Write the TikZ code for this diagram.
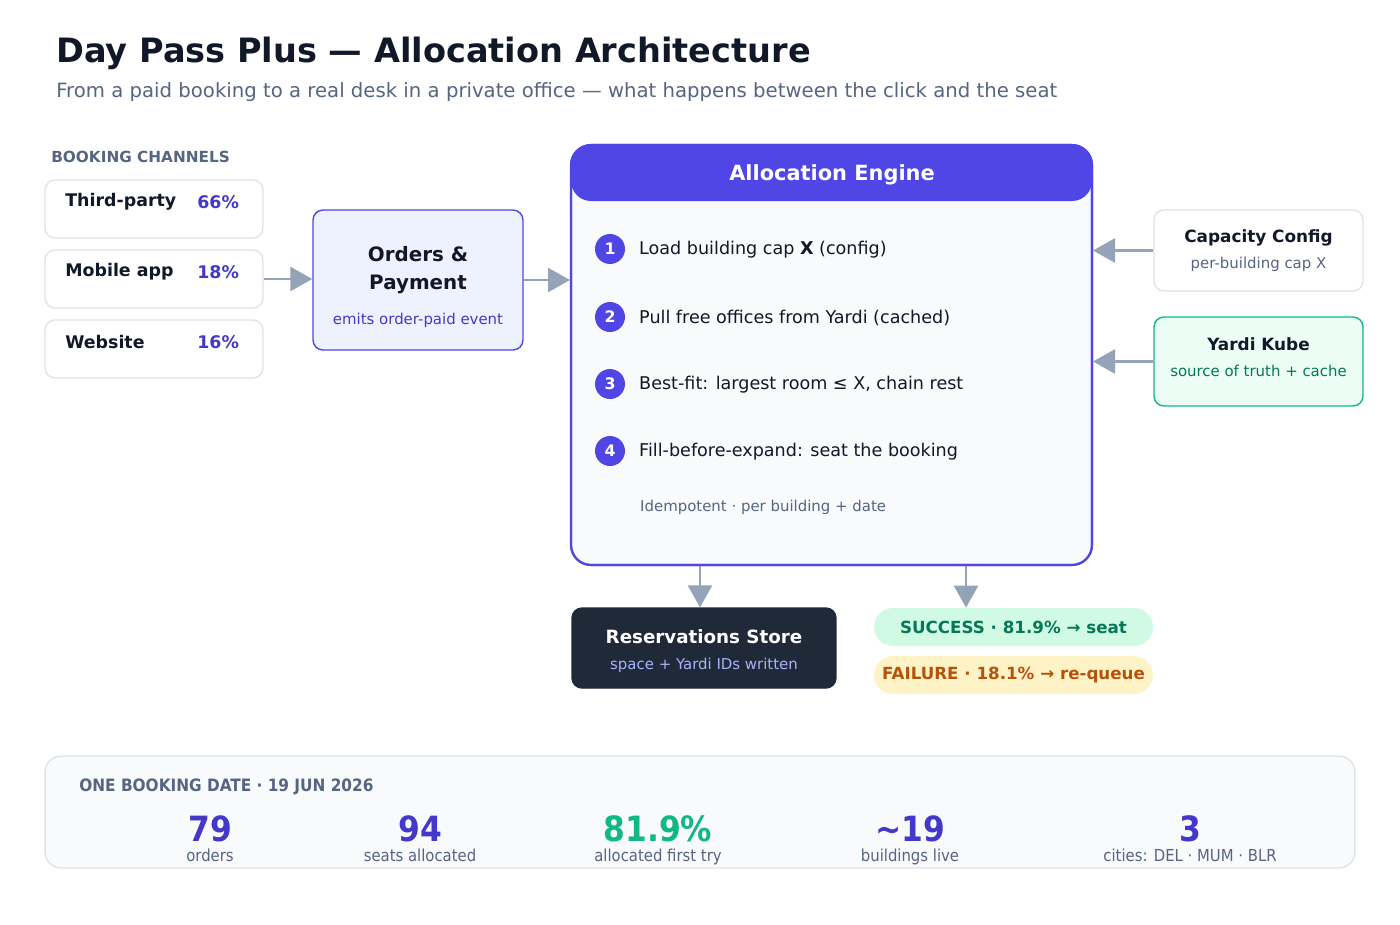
\documentclass[tikz,border=0pt]{standalone}
\usepackage{fontspec}
\setmainfont{DejaVu Sans}
\newfontfamily\condfont{DejaVu Sans Condensed}
\usetikzlibrary{arrows.meta}

\definecolor{ink}{HTML}{111827}
\definecolor{slate}{HTML}{566581}
\definecolor{indigo}{HTML}{4F46E5}
\definecolor{indigodk}{HTML}{4338CA}
\definecolor{line}{HTML}{DFE3EA}
\definecolor{paper}{HTML}{F8FAFC}
\definecolor{lavender}{HTML}{EEF2FF}
\definecolor{arrowgray}{HTML}{94A3B8}
\definecolor{mint}{HTML}{ECFDF5}
\definecolor{emerald}{HTML}{10B981}
\definecolor{forest}{HTML}{047857}
\definecolor{darkbox}{HTML}{1F2937}
\definecolor{periwinkle}{HTML}{A5B4FC}
\definecolor{okfill}{HTML}{D1FAE5}
\definecolor{warnfill}{HTML}{FEF3C7}
\definecolor{amber}{HTML}{B45309}

\tikzset{
  box/.style={draw=line, line width=0.8pt, rounded corners=0.2cm, fill=white, inner sep=0pt},
  flow/.style={draw=arrowgray, line width=1.6pt, -{Triangle[length=0.44cm,width=0.48cm]}},
  title/.style={font=\bfseries\fontsize{9.6}{12}\selectfont, text=ink},
  small/.style={font=\fontsize{8.5}{10}\selectfont},
  stepnum/.style={circle, fill=indigo, minimum size=0.6cm, inner sep=0pt, text=white, font=\bfseries\fontsize{9}{10}\selectfont},
  steptext/.style={anchor=west, text=ink, font=\fontsize{10}{12}\selectfont},
  pill/.style={rounded corners=0.38cm, minimum width=5.58cm, minimum height=0.76cm, font=\bfseries\fontsize{9.5}{11}\selectfont}
}

\begin{document}
\begin{tikzpicture}[x=0.02cm, y=-0.02cm]
  \useasboundingbox[fill=white] (0,0) rectangle (1400,924);

  % heading
  \node[anchor=base west, inner sep=0pt, text=ink, font=\bfseries\fontsize{19.1}{22}\selectfont] (head) at (56,62) {Day Pass Plus — Allocation Architecture};
  \node[anchor=base west, inner sep=0pt, text=slate, font=\fontsize{11.2}{13}\selectfont] (sub) at (56,97) {From a paid booking to a real desk in a private office — what happens between the click and the seat};

  % booking channels
  \node[anchor=west, inner sep=0pt, text=slate, font=\bfseries\fontsize{8.7}{10}\selectfont] (chan) at (51,157) {BOOKING CHANNELS};
  \node[box, minimum width=4.36cm, minimum height=1.16cm] (third) at (154,209) {};
  \node[box, minimum width=4.36cm, minimum height=1.16cm] (mobile) at (154,279) {};
  \node[box, minimum width=4.36cm, minimum height=1.16cm] (web) at (154,349) {};
  \foreach \y/\name/\pct in {202/Third-party/66\%, 272/Mobile app/18\%, 342/Website/16\%}{
    \node[anchor=west, inner sep=0pt, text=ink, font=\bfseries\fontsize{9.9}{12}\selectfont] at (65,\y) {\name};
    \node[anchor=west, inner sep=0pt, text=indigodk, font=\bfseries\fontsize{9.9}{12}\selectfont] at (197,\y) {\pct};
  }

  % orders
  \node[box, draw=indigo, fill=lavender, minimum width=4.2cm, minimum height=2.8cm] (orders) at (418,280) {};
  \node[title, align=center, font=\bfseries\fontsize{11.3}{15.9}\selectfont] (ordtxt) at (418,270) {Orders \&\\Payment};
  \node[small, text=indigodk] (ordsub) at (418,320) {emits order-paid event};

  % allocation engine
  \node[draw=indigo, line width=1.2pt, fill=paper, rounded corners=0.4cm, minimum width=10.42cm, minimum height=8.4cm] (engine) at (831.5,355) {};
  \fill[indigo, rounded corners=0.4cm] (571,145) rectangle (1092,201);
  \draw[indigo, line width=1.2pt, rounded corners=0.4cm] (571,145) rectangle (1092,565);
  \node[text=white, font=\bfseries\fontsize{11.9}{14}\selectfont] (engtitle) at (832,175) {Allocation Engine};

  \node[stepnum] (s1) at (610,249) {1};
  \node[stepnum] (s2) at (610,317) {2};
  \node[stepnum] (s3) at (610,384) {3};
  \node[stepnum] (s4) at (610,451) {4};
  \node[steptext] at (633,250) {Load building cap \textbf{X} (config)};
  \node[steptext] at (633,318) {Pull free offices from Yardi (cached)};
  \node[steptext] at (633,385) {Best-fit: largest room ≤ X, chain rest};
  \node[steptext] at (633,452) {Fill-before-expand: seat the booking};
  \node[small, anchor=west, text=slate] (idem) at (634,507) {Idempotent · per building + date};

  % sources
  \node[box, minimum width=4.18cm, minimum height=1.62cm] (cap) at (1258.5,250.5) {};
  \node[title] at (1258.5,238) {Capacity Config};
  \node[small, text=slate] at (1258.5,264) {per-building cap X};
  \node[box, draw=emerald, fill=mint, minimum width=4.18cm, minimum height=1.78cm] (yardi) at (1258.5,361.5) {};
  \node[title] at (1258.5,344) {Yardi Kube};
  \node[small, text=forest] at (1258.5,371) {source of truth + cache};

  % outputs
  \node[box, draw=darkbox, fill=darkbox, minimum width=5.28cm, minimum height=1.6cm] (store) at (704,648) {};
  \node[title, text=white, font=\bfseries\fontsize{10.4}{12}\selectfont] at (704,637) {Reservations Store};
  \node[small, text=periwinkle] at (704,665) {space + Yardi IDs written};
  \node[pill, fill=okfill, text=forest] (ok) at (1013.5,627) {SUCCESS · 81.9\% → seat};
  \node[pill, fill=warnfill, text=amber] (fail) at (1013.5,675) {FAILURE · 18.1\% → re-queue};

  % connectors
  \draw[flow] (mobile.east) -- (mobile.east -| orders.west);
  \draw[flow] (orders.east) -- (orders.east -| engine.west);
  \draw[flow] (cap.west) -- (cap.west -| engine.east);
  \draw[flow] (yardi.west) -- (yardi.west -| engine.east);
  \coordinate (e1) at (700,566);
  \coordinate (e2) at (966,566);
  \draw[flow] (e1) -- (e1 |- store.north);
  \draw[flow] (e2) -- (e2 |- ok.north);

  % summary panel
  \node[box, draw=line, fill=paper, rounded corners=0.32cm, minimum width=26.2cm, minimum height=2.24cm] (panel) at (700,812) {};
  \node[anchor=west, inner sep=0pt, text=slate, font=\condfont\bfseries\fontsize{9.7}{11}\selectfont] (date) at (79,787) {ONE BOOKING DATE · 19 JUN 2026};
  \foreach \x/\num/\lab/\col in {210/79/orders/indigodk, 420/94/seats allocated/indigodk, 658/81.9\%/allocated first try/emerald, 910/\textasciitilde19/buildings live/indigodk, 1190/3/cities: DEL · MUM · BLR/indigodk}{
    \node[anchor=base, inner sep=0pt, text=\col, font=\condfont\bfseries\fontsize{19.8}{22}\selectfont] at (\x,841) {\num};
    \node[anchor=base, inner sep=0pt, text=slate, font=\condfont\fontsize{9.4}{11}\selectfont] at (\x,861) {\lab};
  }
\end{tikzpicture}
\end{document}
